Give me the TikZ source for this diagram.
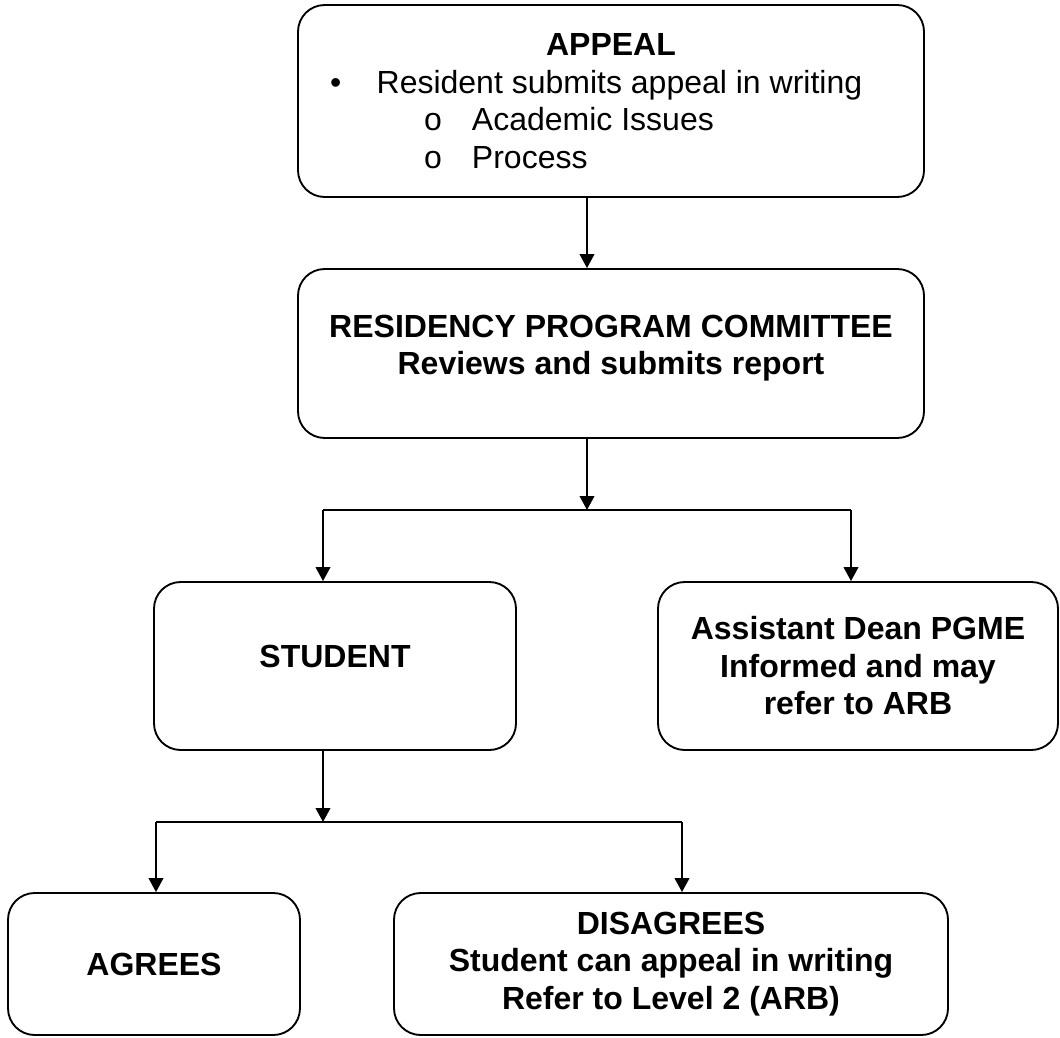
\documentclass[tikz,border=0pt]{standalone}
\usepackage{fontspec}
\setmainfont{Liberation Sans}
\usetikzlibrary{calc,arrows.meta}

\begin{document}
\begin{tikzpicture}[x=0.75pt, y=-0.75pt,
  box/.style={draw, line width=1.4pt, rounded corners=20pt, inner sep=0pt, align=center, font=\fontsize{24}{28.1}\selectfont\bfseries},
  arr/.style={line width=1.4pt, -{Triangle[width=11pt,length=10.5pt]}},
  link/.style={line width=1.4pt}]
\useasboundingbox (0,0) rectangle (1060,1038);
\node[box, minimum width=469.5pt, minimum height=144pt] (appeal) at (611,101) {\begin{minipage}{469.5pt}\centering APPEAL\par\mdseries\raggedright
\hspace*{24pt}\makebox[35pt][l]{\textbullet}Resident submits appeal in writing\par
\hspace*{94.5pt}\makebox[36pt][l]{o}Academic Issues\par
\hspace*{94.5pt}\makebox[36pt][l]{o}Process\end{minipage}};
\node[box, minimum width=469.5pt, minimum height=126.75pt, text depth=12.75pt] (rpc) at (611,353.5) {RESIDENCY PROGRAM COMMITTEE\\Reviews and submits report};
\node[box, minimum width=271.5pt, minimum height=126pt, text depth=15pt] (student) at (335,666) {STUDENT};
\node[box, minimum width=300pt, minimum height=126pt] (dean) at (858,666) {Assistant Dean PGME\\Informed and may\\refer to ARB};
\node[box, minimum width=219pt, minimum height=106.5pt] (agrees) at (154,964) {AGREES};
\node[box, minimum width=415.5pt, minimum height=106.5pt] (disagrees) at (671,964) {DISAGREES\\Student can appeal in writing\\Refer to Level 2 (ARB)};
\coordinate (split1) at (587,510);
\coordinate (split1l) at (323,510);
\coordinate (split1r) at (851,510);
\coordinate (split2) at (323,822);
\coordinate (split2l) at (156,822);
\coordinate (split2r) at (682,822);
\draw[arr] (appeal.south -| split1) -- (rpc.north -| split1);
\draw[arr] (rpc.south -| split1) -- (split1);
\draw[link] (split1l) -- (split1r);
\draw[arr] (split1l) -- (student.north -| split1l);
\draw[arr] (split1r) -- (dean.north -| split1r);
\draw[arr] (student.south -| split2) -- (split2);
\draw[link] (split2l) -- (split2r);
\draw[arr] (split2l) -- (agrees.north -| split2l);
\draw[arr] (split2r) -- (disagrees.north -| split2r);
\end{tikzpicture}
\end{document}
